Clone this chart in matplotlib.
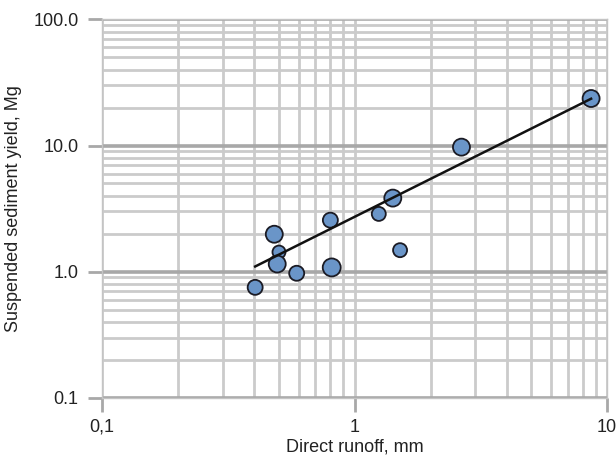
import numpy as np
import matplotlib
matplotlib.use("Agg")
from matplotlib import pyplot as plt
from matplotlib.ticker import FixedLocator, FixedFormatter, NullFormatter

# observed storm events
runoff = [0.404, 0.481, 0.502, 0.494, 0.590, 0.802, 0.812, 1.247, 1.417, 1.514, 2.65, 8.64]
sediment = [0.751, 1.98, 1.43, 1.15, 0.971, 2.56, 1.08, 2.87, 3.83, 1.48, 9.71, 23.6]
marker_px = [15, 17, 13, 17, 15, 15, 18, 14, 17, 14, 17, 17]

# power trend line y = a * x^b
trend_a = 2.72
trend_b = 1.0

x_ticks = [0.1, 1, 10]
x_labels = ["0,1", "1", "10"]
y_ticks = [0.1, 1, 10, 100]
y_labels = ["0.1", "1.0", "10.0", "100.0"]

plt.rcParams['font.family'] = ['Liberation Sans', 'DejaVu Sans']

fig = plt.figure(figsize=(6.16, 4.62), dpi=100)
ax = fig.add_axes([0.1656, 0.139, 0.82, 0.819])

ax.set_xscale('log')
ax.set_yscale('log')
ax.set_xlim(0.1, 10)
ax.set_ylim(0.1, 100)

ax.xaxis.set_major_locator(FixedLocator(x_ticks))
ax.xaxis.set_major_formatter(FixedFormatter(x_labels))
ax.yaxis.set_major_locator(FixedLocator(y_ticks))
ax.yaxis.set_major_formatter(FixedFormatter(y_labels))
ax.xaxis.set_minor_formatter(NullFormatter())
ax.yaxis.set_minor_formatter(NullFormatter())

# grid
ax.grid(which='minor', color='#cbcbcb', lw=2.0, zorder=0)
ax.grid(which='major', axis='x', color='#cbcbcb', lw=2.0, zorder=0)
ax.grid(which='major', axis='y', color='#a8a8a8', lw=2.6, zorder=0)
ax.set_axisbelow(True)

for s in ['left', 'bottom', 'top', 'right']:
    ax.spines[s].set_color('#c4c4c4')
    ax.spines[s].set_linewidth(1.0)

ax.tick_params(which='major', length=10, width=2, color='#a8a8a8',
               labelsize=13, labelcolor='#222222', pad=7)
ax.tick_params(axis='x', which='major', pad=5)
ax.tick_params(which='minor', length=0)

# scatter
sizes = [(d * 72 / 100) ** 2 for d in marker_px]
ax.scatter(runoff, sediment, s=sizes, facecolor='#6a95c8', edgecolor='#1b1b24',
           linewidth=1.3, zorder=3)

xs = np.array([min(runoff), max(runoff)])
ax.plot(xs, trend_a * xs ** trend_b, color='#111111', lw=1.8, zorder=4)

ax.set_xlabel("Direct runoff, mm", fontsize=13, color='#222222', labelpad=2)
ax.set_ylabel("Suspended sediment yield, Mg", fontsize=13, color='#222222', labelpad=8)

fig.savefig("out.png", dpi=100)
